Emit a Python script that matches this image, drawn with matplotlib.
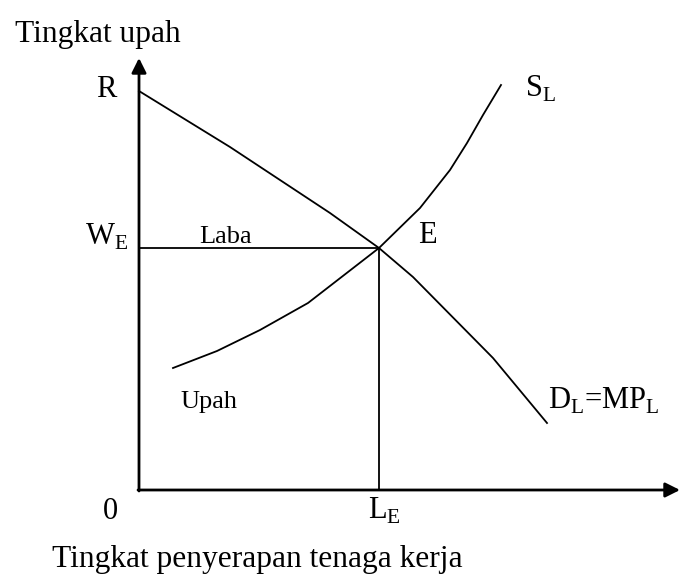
import matplotlib.pyplot as plt

plt.rcParams['font.family'] = 'Liberation Serif'
plt.rcParams['mathtext.fontset'] = 'custom'
plt.rcParams['mathtext.rm'] = 'Liberation Serif'

# Demand curve D_L = MP_L (labour, wage)
demand_x = [0.0, 9.1, 19.1, 24.0, 27.4, 35.4, 40.8]
demand_y = [39.9, 34.3, 27.7, 24.2, 21.3, 13.2, 6.7]

# Supply curve S_L
supply_x = [3.4, 7.8, 12.1, 16.9, 24.0, 28.1, 31.1, 32.8, 34.4, 36.2]
supply_y = [12.2, 13.9, 16.0, 18.7, 24.2, 28.2, 32.0, 34.7, 37.5, 40.5]

# equilibrium
L_E = 24.0
W_E = 24.2

fig = plt.figure(figsize=(6.8, 5.81), dpi=100)
ax = fig.add_axes([0, 0, 1, 1])
ax.set_xlim(-13.9, 54.1)
ax.set_ylim(-9.1, 49.0)
ax.axis('off')

# axes with arrows
ax.annotate('', xy=(0, 43.2), xytext=(0, -0.1),
            arrowprops=dict(arrowstyle='-|>', color='black', lw=2,
                            mutation_scale=22, shrinkA=0, shrinkB=0))
ax.annotate('', xy=(54.1, 0), xytext=(-0.1, 0),
            arrowprops=dict(arrowstyle='-|>', color='black', lw=2,
                            mutation_scale=22, shrinkA=0, shrinkB=0))

ax.plot(demand_x, demand_y, color='black', lw=1.3)
ax.plot(supply_x, supply_y, color='black', lw=1.3)

# equilibrium lines
ax.plot([0, L_E], [W_E, W_E], color='black', lw=1.3)
ax.plot([L_E, L_E], [0, W_E], color='black', lw=1.3)

big = 22
small = 19
ax.text(-12.4, 44.8, 'Tingkat upah', fontsize=22.6, va='baseline')
ax.text(-8.7, -7.7, 'Tingkat penyerapan tenaga kerja', fontsize=22.6, va='baseline')
ax.text(-4.3, 39.3, 'R', fontsize=big, va='baseline')
ax.text(-5.4, 24.5, r'W$_{\mathrm{E}}$', fontsize=big, va='baseline')
ax.text(6.0, 24.7, 'Laba', fontsize=small, va='baseline')
ax.text(27.9, 24.7, 'E', fontsize=big, va='baseline')
ax.text(38.6, 39.3, r'S$_{\mathrm{L}}$', fontsize=big, va='baseline')
ax.text(4.1, 8.2, 'Upah', fontsize=small, va='baseline')
ax.text(40.9, 8.1, r'D$_{\mathrm{L}}$=MP$_{\mathrm{L}}$', fontsize=big, va='baseline')
ax.text(-3.6, -2.9, '0', fontsize=big, va='baseline')
ax.text(22.9, -2.9, r'L$_{\mathrm{E}}$', fontsize=big, va='baseline')

fig.savefig('out.png', dpi=100)
